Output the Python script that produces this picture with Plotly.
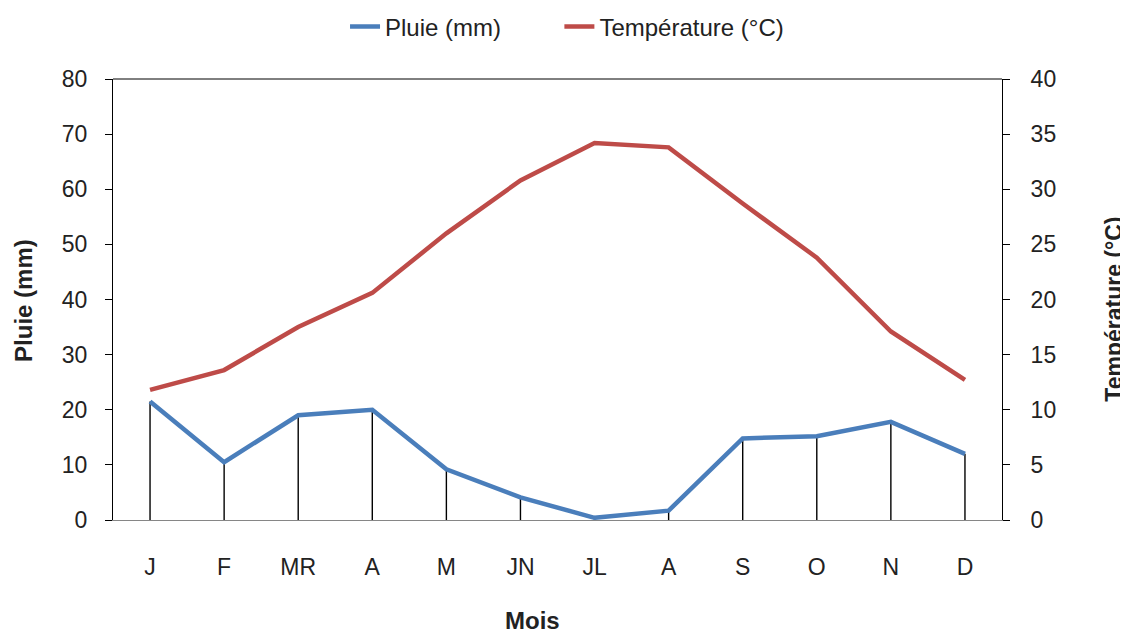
import plotly.graph_objects as go

months = ["J", "F", "MR", "A", "M", "JN", "JL", "A", "S", "O", "N", "D"]
pluie_mm = [21.5, 10.5, 19.0, 20.0, 9.2, 4.1, 0.4, 1.7, 14.8, 15.2, 17.8, 12.0]
temperature_c = [11.8, 13.6, 17.5, 20.6, 26.0, 30.8, 34.2, 33.8, 28.7, 23.8, 17.1, 12.7]
pluie_ticks = [0, 10, 20, 30, 40, 50, 60, 70, 80]
temp_ticks = [0, 5, 10, 15, 20, 25, 30, 35, 40]

FONT = "Liberation Sans, Arial, sans-serif"
pos = list(range(len(months)))
NBSP = "\u00a0"

fig = go.Figure()

# drop lines from each rain point down to the axis
fig.add_trace(go.Scatter(
    x=pos, y=pluie_mm, mode="markers",
    marker=dict(size=1, opacity=0),
    error_y=dict(type="data", symmetric=False, array=[0] * len(pluie_mm),
                 arrayminus=pluie_mm, width=0, thickness=1.4, color="#000000"),
    showlegend=False, hoverinfo="skip",
))

fig.add_trace(go.Scatter(
    x=pos, y=pluie_mm, mode="lines", name="Pluie (mm)" + NBSP * 8,
    line=dict(color="#4A7EBB", width=4.5),
))
fig.add_trace(go.Scatter(
    x=pos, y=temperature_c, mode="lines", name="Température (°C)",
    line=dict(color="#BE4B48", width=4.5), yaxis="y2",
))

# page body has an 8px default margin: figure is sized to fit the 1128x634 window
fig.update_layout(
    width=1120, height=626,
    margin=dict(l=105, r=126, t=71, b=114, autoexpand=False),
    paper_bgcolor="white", plot_bgcolor="white",
    font=dict(family=FONT, size=23, color="#222222"),
    xaxis=dict(
        range=[-0.5, len(months) - 0.5],
        tickvals=pos, ticktext=months,
        showline=True, linecolor="#868686", linewidth=1,
        showgrid=False, zeroline=False, ticks="",
        ticklabelstandoff=26,
        tickfont=dict(size=23, color="#222222"),
    ),
    yaxis=dict(
        range=[0, 80], tickvals=pluie_ticks,
        showline=True, linecolor="#000000", linewidth=1,
        ticks="outside", ticklen=7, tickcolor="#000000",
        showgrid=False, zeroline=False,
        ticklabelstandoff=13,
        tickfont=dict(size=23, color="#222222"),
    ),
    yaxis2=dict(
        range=[0, 40], tickvals=temp_ticks,
        overlaying="y", side="right", anchor="x",
        showline=True, linecolor="#000000", linewidth=1,
        ticks="outside", ticklen=7, tickcolor="#000000",
        showgrid=False, zeroline=False,
        ticklabelstandoff=16,
        tickfont=dict(size=23, color="#222222"),
    ),
    legend=dict(
        orientation="h", x=0.261, xanchor="left", y=1.169, yanchor="top",
        font=dict(size=24, color="#222222"), bgcolor="rgba(0,0,0,0)",
    ),
    shapes=[dict(type="line", xref="paper", yref="paper", x0=0, x1=1, y0=1, y1=1,
                 line=dict(color="#000000", width=1))],
    annotations=[
        dict(text="<b>Mois</b>", xref="paper", yref="paper", x=0.472, y=-0.229,
             xanchor="center", yanchor="middle", showarrow=False,
             font=dict(size=24, color="#222222")),
        dict(text="<b>Pluie (mm)</b>", xref="paper", yref="paper", x=-0.100, y=0.497,
             xanchor="center", yanchor="middle", showarrow=False, textangle=-90,
             font=dict(size=24, color="#222222")),
        dict(text="<b>Température (°C)</b>", xref="paper", yref="paper", x=1.126, y=0.477,
             xanchor="center", yanchor="middle", showarrow=False, textangle=-90,
             font=dict(size=23, color="#222222")),
    ],
)

fig.write_html("out.html")
